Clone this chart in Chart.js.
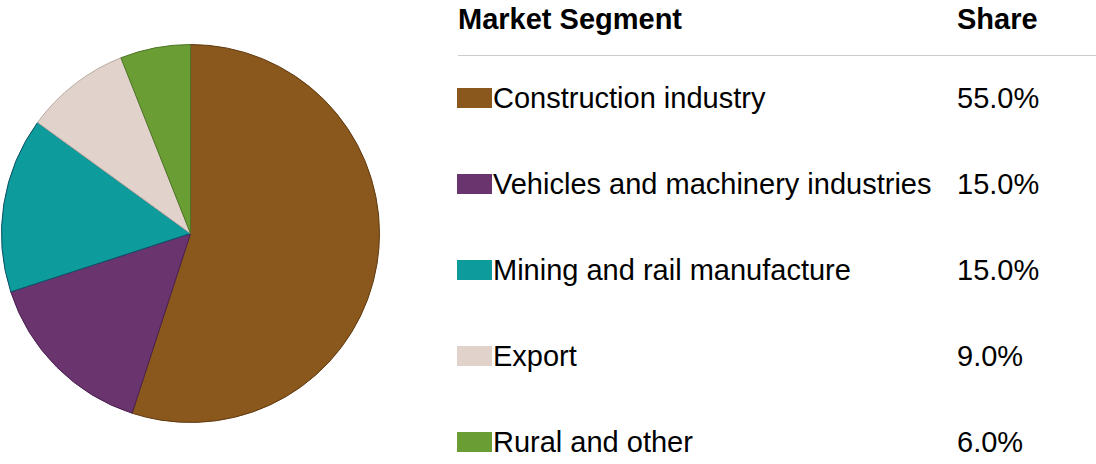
<!DOCTYPE html>
<html>
<head>
<meta charset="utf-8">
<script src="https://cdn.jsdelivr.net/npm/chart.js@4/dist/chart.umd.min.js"></script>
<style>
  html, body { margin: 0; padding: 0; background: #fff; }
  body { width: 1096px; height: 464px; position: relative; overflow: hidden;
         font-family: "Liberation Sans", Arial, sans-serif; color: #000; }
  #pieBox { position: absolute; left: 1px; top: 44px; width: 379px; height: 379px; }
  .txt { position: absolute; font-size: 29px; line-height: 29px; white-space: nowrap; }
  .hdr { font-weight: bold; }
  .sw { position: absolute; width: 35px; height: 20px; left: 457px; }
  #rule { position: absolute; left: 458px; right: 0; top: 55px; height: 1px; background: #cccccc; }
</style>
</head>
<body>
<div id="pieBox"><canvas id="pie"></canvas></div>
<div id="legend"></div>
<script>
"use strict";

var segments = [
    'Construction industry',
    'Vehicles and machinery industries',
    'Mining and rail manufacture',
    'Export',
    'Rural and other'
];
var shares = [55.0, 15.0, 15.0, 9.0, 6.0];
var headers = ['Market Segment', 'Share'];

var fills = ['#8a571c', '#6a346e', '#0d9b9c', '#e1d3cb', '#6a9e34'];
var edges = ['#5e3a10', '#4a2050', '#0b4f66', '#b9aaa2', '#4d7426'];

function addText(parent, text, left, top, cls) {
    var el = document.createElement('div');
    el.className = 'txt' + (cls ? ' ' + cls : '');
    el.textContent = text;
    el.style.left = left + 'px';
    el.style.top = top + 'px';
    parent.appendChild(el);
    return el;
}

function buildLegend() {
    var box = document.getElementById('legend');
    addText(box, headers[0], 458, 5, 'hdr');
    addText(box, headers[1], 957, 5, 'hdr');
    var rule = document.createElement('div');
    rule.id = 'rule';
    box.appendChild(rule);
    segments.forEach(function(label, i) {
        var top = 84 + i * 86;
        var sw = document.createElement('div');
        sw.className = 'sw';
        sw.style.top = (top + 4) + 'px';
        sw.style.background = fills[i];
        box.appendChild(sw);
        addText(box, label, 493, top);
        addText(box, shares[i].toFixed(1) + '%', 957, top);
    });
}

var chart = new Chart(document.getElementById('pie'), {
    type: 'pie',
    data: {
        labels: segments,
        datasets: [{
            data: shares,
            backgroundColor: fills,
            borderColor: edges,
            borderWidth: 1
        }]
    },
    options: {
        responsive: true,
        maintainAspectRatio: false,
        animation: false,
        layout: { padding: 0 },
        plugins: {
            legend: { display: false },
            tooltip: { enabled: false }
        }
    }
});

buildLegend();
</script>
</body>
</html>
